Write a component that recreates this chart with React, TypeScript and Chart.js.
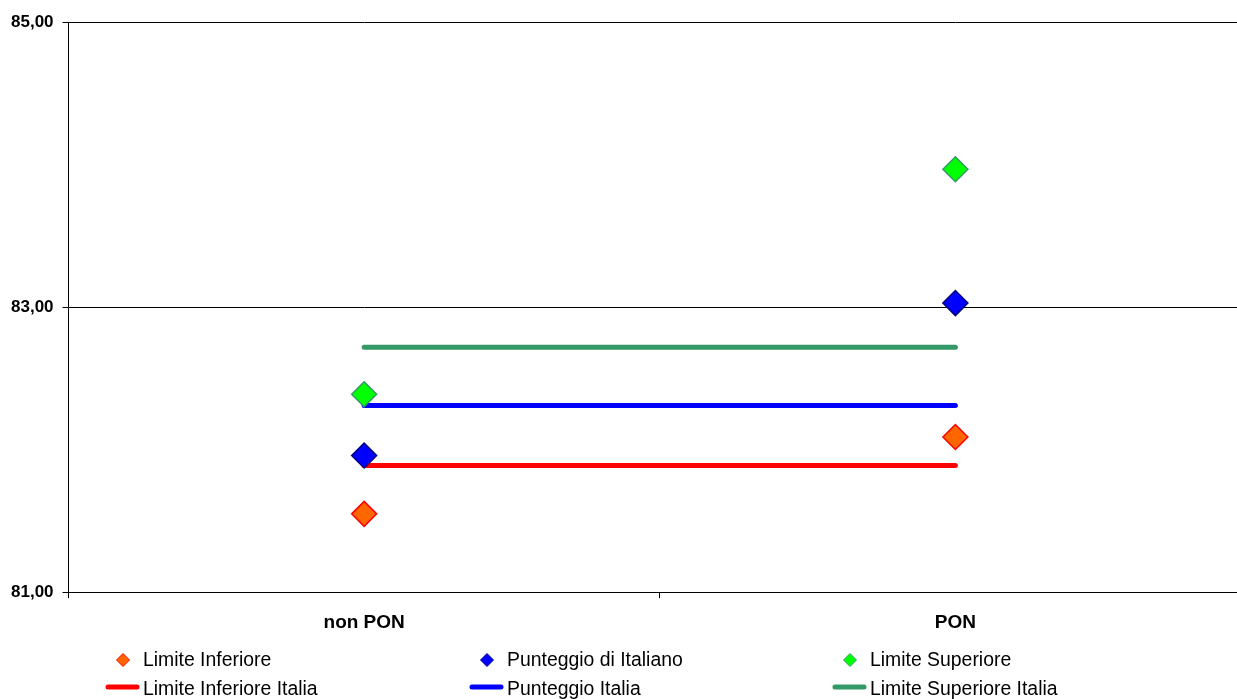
import React, { useEffect, useRef } from "react";
import { Chart, registerables } from "chart.js";

Chart.register(...registerables);

const categories = ["non PON", "PON"];
const limiteInferiore = [81.55, 82.09];
const punteggioItaliano = [81.96, 83.03];
const limiteSuperiore = [82.39, 83.97];
const limiteInferioreItalia = [81.89, 81.89];
const punteggioItalia = [82.31, 82.31];
const limiteSuperioreItalia = [82.72, 82.72];
const yMin = 81;
const yMax = 85;
const yStep = 2;

const FONT = "'Liberation Sans', Arial, sans-serif";
const CANVAS_W = 1265;
const CANVAS_H = 699;

const legendPlugin = {
  id: "gridLegend",
  afterDraw(chart: any) {
    const ctx = chart.ctx;
    const colX = [123, 487, 850];
    const rowY = [660, 689];
    chart.data.datasets.forEach((ds: any, i: number) => {
      const col = i % 3;
      const row = Math.floor(i / 3);
      const cx = colX[col];
      const cy = rowY[row];
      ctx.save();
      if (ds.showLine === false) {
        const r = 6.5;
        ctx.beginPath();
        ctx.moveTo(cx - r, cy);
        ctx.lineTo(cx, cy - r);
        ctx.lineTo(cx + r, cy);
        ctx.lineTo(cx, cy + r);
        ctx.closePath();
        ctx.fillStyle = ds.backgroundColor;
        ctx.fill();
        ctx.lineWidth = 1;
        ctx.strokeStyle = ds.borderColor;
        ctx.stroke();
      } else {
        ctx.beginPath();
        ctx.moveTo(cx - 15, cy - 2);
        ctx.lineTo(cx + 14, cy - 2);
        ctx.lineWidth = 5;
        ctx.lineCap = "round";
        ctx.strokeStyle = ds.borderColor;
        ctx.stroke();
      }
      ctx.fillStyle = "#000";
      ctx.font = `19.4px ${FONT}`;
      ctx.textBaseline = "middle";
      ctx.textAlign = "left";
      ctx.fillText(ds.label, cx + 20, cy + 1);
      ctx.restore();
    });
  },
};

export default function App() {
  const ref = useRef<HTMLCanvasElement>(null);
  useEffect(() => {
    if (!ref.current) return;
    const markerDs = (label: string, data: number[], fill: string, border: string) => ({
      label,
      data,
      showLine: false,
      pointStyle: "rectRot",
      pointRadius: 12.5,
      pointHoverRadius: 12.5,
      pointBorderWidth: 1.5,
      backgroundColor: fill,
      borderColor: border,
      pointBackgroundColor: fill,
      pointBorderColor: border,
      order: 0,
    });
    const lineDs = (label: string, data: number[], color: string) => ({
      label,
      data,
      showLine: true,
      borderColor: color,
      backgroundColor: color,
      borderWidth: 5,
      borderCapStyle: "round",
      pointRadius: 0,
      pointHoverRadius: 0,
      fill: false,
      order: 1,
    });
    const chart = new Chart(ref.current, {
      type: "line",
      data: {
        labels: categories,
        datasets: [
          markerDs("Limite Inferiore", limiteInferiore, "#FF6600", "#FF0000"),
          markerDs("Punteggio di Italiano", punteggioItaliano, "#0000FF", "#000080"),
          markerDs("Limite Superiore", limiteSuperiore, "#00FF00", "#339966"),
          lineDs("Limite Inferiore Italia", limiteInferioreItalia, "#FF0000"),
          lineDs("Punteggio Italia", punteggioItalia, "#0000FF"),
          lineDs("Limite Superiore Italia", limiteSuperioreItalia, "#339966"),
        ] as any,
      },
      options: {
        animation: false,
        responsive: false,
        maintainAspectRatio: false,
        devicePixelRatio: 1,
        layout: { padding: { left: 2, top: 22.5, right: 0, bottom: 52 } },
        plugins: { legend: { display: false }, tooltip: { enabled: false } },
        scales: {
          x: {
            type: "category",
            offset: true,
            grid: { offset: true, drawOnChartArea: false, color: "#000", tickLength: 6 },
            border: { color: "#000", width: 1 },
            ticks: { color: "#000", font: { family: FONT, size: 19, weight: "bold" }, padding: 13 },
          },
          y: {
            min: yMin,
            max: yMax,
            grid: { color: "#000", lineWidth: 1, tickLength: 6 },
            border: { color: "#000", width: 1 },
            ticks: {
              stepSize: yStep,
              color: "#000",
              padding: 9,
              font: { family: FONT, size: 17, weight: "bold" },
              callback: (v: any) => Number(v).toFixed(2).replace(".", ","),
            },
          },
        },
      },
      plugins: [legendPlugin],
    });
    return () => chart.destroy();
  }, []);
  return (
    <div style={{ position: "fixed", left: 0, top: 0, width: CANVAS_W, height: CANVAS_H, background: "#fff" }}>
      <canvas ref={ref} width={CANVAS_W} height={CANVAS_H} style={{ display: "block" }} />
    </div>
  );
}
